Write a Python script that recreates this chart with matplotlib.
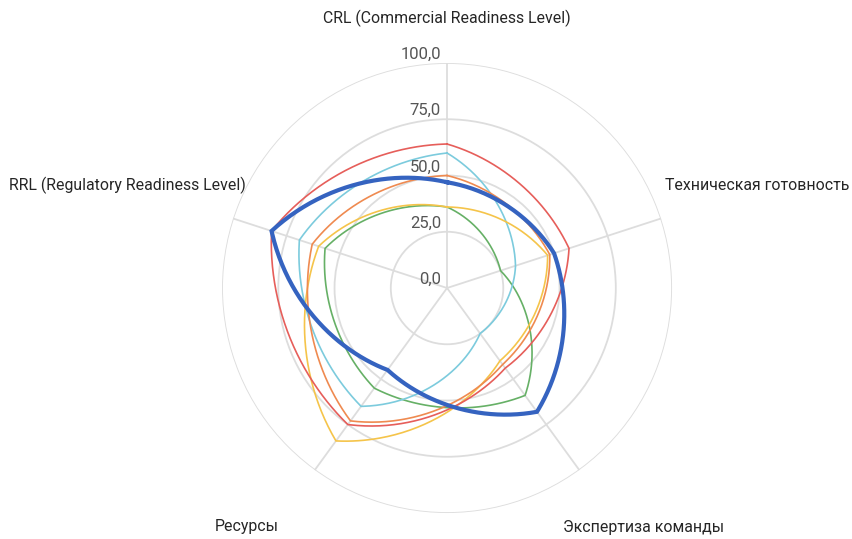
import numpy as np
import matplotlib.pyplot as plt
from matplotlib import transforms

# Axes of the radar, clockwise from the top
categories = ["CRL (Commercial Readiness Level)", "Техническая готовность",
              "Экспертиза команды", "Ресурсы", "RRL (Regulatory Readiness Level)"]

# Scores per series, same order as categories
red = [64, 57, 44, 75, 82]
orange = [50, 48, 42, 73, 63]
yellow = [36, 47, 40, 84, 60]
cyan = [60, 32, 25, 65, 69]
green = [36, 25, 59, 55, 57]
blue = [47, 50, 68, 45, 82]

rticks = [0, 25, 50, 75, 100]
rtick_labels = ["0,0", "25,0", "50,0", "75,0", "100,0"]

plt.rcParams["font.family"] = ["Roboto", "DejaVu Sans"]

fig = plt.figure(figsize=(8.52, 5.39), dpi=100)
ax = fig.add_axes([0.2606, 0.0482, 0.5282, 0.8349], projection="polar")
ax.set_theta_offset(np.pi / 2)
ax.set_theta_direction(-1)

angles = np.linspace(0, 2 * np.pi, len(categories) + 1)


def curve(values, bend=0.65, n=80):
    # each edge is a mix of the straight chord and the arc that runs
    # linearly in (angle, radius); corners stay sharp at the points
    r = list(values) + [values[0]]
    ts, rs = [], []
    s = np.linspace(0, 1, n)
    for i in range(len(values)):
        t0, t1, r0, r1 = angles[i], angles[i + 1], r[i], r[i + 1]
        ta = t0 + s * (t1 - t0)
        ra = r0 + s * (r1 - r0)
        xa, ya = ra * np.sin(ta), ra * np.cos(ta)
        xc = (1 - s) * r0 * np.sin(t0) + s * r1 * np.sin(t1)
        yc = (1 - s) * r0 * np.cos(t0) + s * r1 * np.cos(t1)
        x = bend * xa + (1 - bend) * xc
        y = bend * ya + (1 - bend) * yc
        ts.append(np.unwrap(np.arctan2(x, y)))
        rs.append(np.hypot(x, y))
    return np.concatenate(ts), np.concatenate(rs)


def draw(values, color, lw):
    t, r = curve(values)
    ax.plot(t, r, color=color, lw=lw, solid_joinstyle="miter")


draw(green, "#66b066", 1.2)
draw(cyan, "#7ccbdd", 1.2)
draw(yellow, "#f5c44a", 1.2)
draw(orange, "#ef8a50", 1.2)
draw(red, "#e65e5a", 1.2)
draw(blue, "#3563c0", 3.0)

# grid
ax.set_ylim(0, 100)
ax.set_yticks(rticks[1:])
ax.set_yticklabels([])
ax.set_xticks(angles[:-1])
ax.set_xticklabels([])
ax.grid(color="#dddddd", lw=1.3)
ax.spines["polar"].set_visible(False)
ax.tick_params(length=0)

# radial labels sit just above each ring, left of the top spoke
off = transforms.offset_copy(ax.transData, fig=fig, x=-6, y=1, units="dots")
for v, lab in zip(rticks, rtick_labels):
    ax.text(0, v, lab, transform=off, ha="right", va="bottom",
            fontsize=12, color="#555555")

# category labels
label_pos = [(0.5, 1.10, "center"), (0.984, 0.727, "left"), (0.936, -0.033, "center"),
             (0.056, -0.031, "center"), (0.053, 0.727, "right")]
for name, (x, y, ha) in zip(categories, label_pos):
    ax.text(x, y, name, transform=ax.transAxes, ha=ha, va="center",
            fontsize=11.4, color="#262626")

fig.savefig("out.png", dpi=100)
